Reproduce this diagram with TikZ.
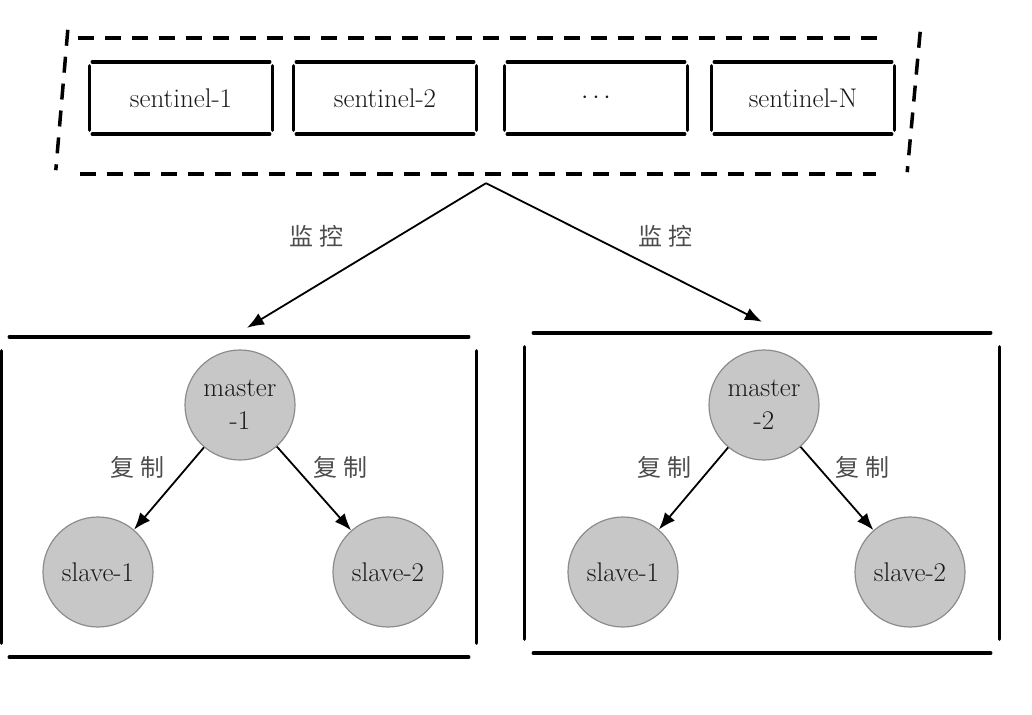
\documentclass[tikz,border=0pt]{standalone}
\usepackage{fontspec}
\newfontfamily\cjk{Noto Sans CJK SC}
\usetikzlibrary{arrows.meta}

\begin{document}
\begin{tikzpicture}[x=1pt,y=-1pt,
  group/.style={minimum width=848pt,minimum height=136pt,inner sep=0pt},
  sbox/.style={minimum width=183pt,minimum height=72pt,inner sep=0pt,text=black!90,font=\fontsize{27}{33}\selectfont},
  cbox/.style={minimum width=475pt,minimum height=320pt,inner sep=0pt},
  side/.style={line width=3.5pt,line cap=round},
  dashside/.style={line width=3.5pt,dash pattern=on 16pt off 11pt},
  redis/.style={circle,draw=black!45,fill=black!22,line width=1.2pt,minimum size=110pt,inner sep=0pt,
    align=center,text=black!90,font=\fontsize{27}{33}\selectfont},
  flow/.style={-{Latex[length=17pt,width=13pt]},line width=1.8pt},
  tag/.style={text=black!70,font=\cjk\fontsize{24}{24}\selectfont}]
\useasboundingbox (0,0) rectangle (1032,714);

\node[group] (sentinels) at (486,106) {};
\node[sbox] (sen1) at (181,98) {sentinel-1};
\node[sbox] (sen2) at (385,98) {sentinel-2};
\node[sbox] (sen3) at (596,98) {$\cdots$};
\node[sbox] (sen4) at (803,98) {sentinel-N};

\node[cbox] (c1) at (239,497) {};
\node[cbox] (c2) at (762,493) {};

\node[redis] (m1) at (240,405) {master\\-1};
\node[redis] (s11) at (98,572) {slave-1};
\node[redis] (s12) at (388,572) {slave-2};
\node[redis] (m2) at (764,405) {master\\-2};
\node[redis] (s21) at (623,572) {slave-1};
\node[redis] (s22) at (910,572) {slave-2};

\draw[dashside] ([xshift=16pt]sentinels.north west) -- ([xshift=-32pt]sentinels.north east);
\draw[dashside] ([xshift=18pt]sentinels.south west) -- ([xshift=-34pt]sentinels.south east);
\draw[dashside] ([xshift=6pt,yshift=8pt]sentinels.north west) -- ([xshift=-6pt,yshift=4pt]sentinels.south west);
\draw[dashside] ([xshift=10pt,yshift=6pt]sentinels.north east) -- ([xshift=-3pt,yshift=2pt]sentinels.south east);

\foreach \n/\h/\v in {sen1/3/4,sen2/3/4,sen3/3/4,sen4/3/4,c1/8/14,c2/9/14} {
  \draw[side] ([xshift=\h pt]\n.north west) -- ([xshift=-\h pt]\n.north east);
  \draw[side] ([xshift=\h pt]\n.south west) -- ([xshift=-\h pt]\n.south east);
  \draw[side] ([yshift=-\v pt]\n.north west) -- ([yshift=\v pt]\n.south west);
  \draw[side] ([yshift=-\v pt]\n.north east) -- ([yshift=\v pt]\n.south east);
}

\coordinate (fork) at ([yshift=-9pt]sentinels.south);
\draw[flow] (fork) -- ([xshift=8pt,yshift=9pt]c1.north);
\draw[flow] (fork) -- ([yshift=11pt]c2.north);
\node[tag] (w1) at (316,236) {监\hspace{6pt}控};
\node[tag] (w2) at (665,236) {监\hspace{6pt}控};

\foreach \a/\b in {m1/s11,m1/s12,m2/s21,m2/s22}
  \draw[flow] (\a) -- (\b);
\node[tag] (r11) at (137,467) {复\hspace{6pt}制};
\node[tag] (r12) at (340,467) {复\hspace{6pt}制};
\node[tag] (r21) at (664,467) {复\hspace{6pt}制};
\node[tag] (r22) at (862,467) {复\hspace{6pt}制};
\end{tikzpicture}
\end{document}
